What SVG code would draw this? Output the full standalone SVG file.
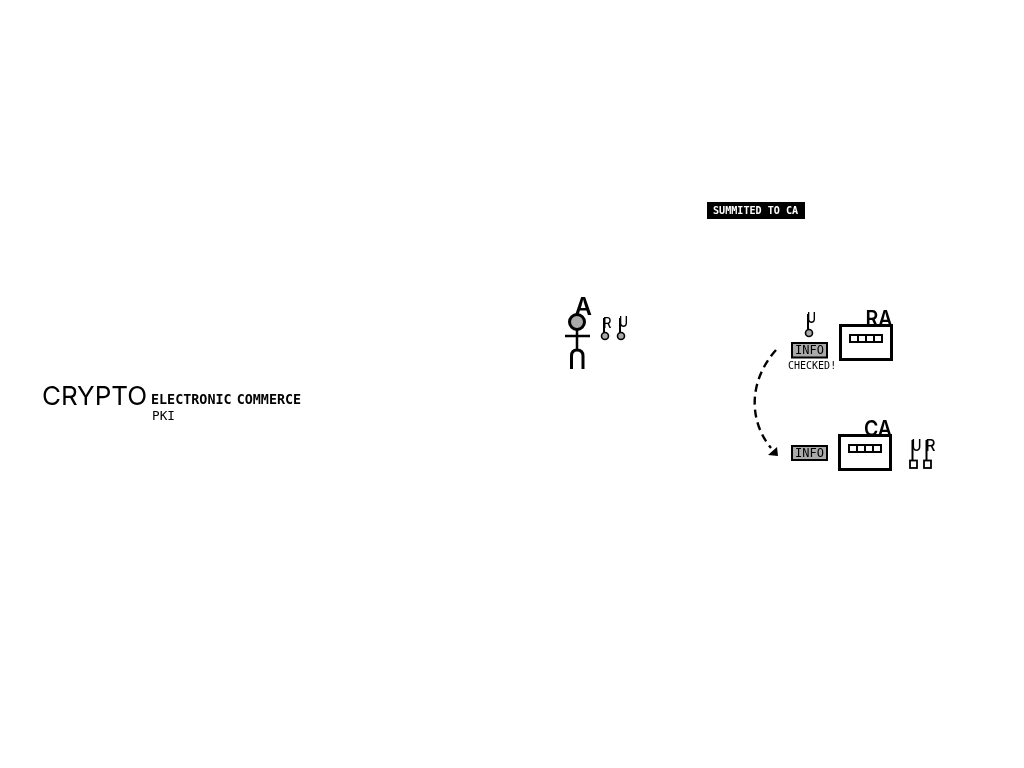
<svg xmlns="http://www.w3.org/2000/svg" width="1024" height="768" viewBox="0 0 1024 768">
<style>
text{filter:grayscale(1)}
.h{font-family:"Inter","Open Sans",sans-serif;fill:#000}
.k{font-weight:500}
.m{font-family:"DejaVu Sans Mono",monospace;fill:#000}
.b{font-weight:bold}
.s{fill:none;stroke:#000;stroke-linecap:butt}
.key{fill:#aaa;stroke:#000;stroke-width:1.600}
.info{fill:#aaa;stroke:#000;stroke-width:2}
.box{fill:#fff;stroke:#000;stroke-width:3}
.slot{fill:#fff;stroke:#000;stroke-width:2}
</style>
<g id="title">
<text class="h" x="42" y="405" font-size="26">CRYPTO</text>
<text class="m b" x="151" y="404" font-size="13.400" word-spacing="-3">ELECTRONIC COMMERCE</text>
<text class="m" x="152" y="420" font-size="12.700">PKI</text>
</g>
<g id="banner">
<rect x="707" y="202" width="98" height="17" fill="#000"/>
<text class="m b" x="713" y="214" font-size="10.100" style="fill:#fff">SUMMITED TO CA</text>
</g>
<g id="person-a">
<text class="h" x="574.500" y="314.500" font-size="24" font-weight="600">A</text>
<circle cx="577" cy="322" r="7.500" fill="#aaa" stroke="#000" stroke-width="3"/>
<path class="s" stroke-width="2.500" d="M577 330V351M565 336H590"/>
<path class="s" stroke-width="3" d="M571.500 369V356Q571.500 350 577 350Q583 350 583 356V369"/>
</g>
<g id="a-key-r">
<text class="h k" x="603" y="328" font-size="14" textLength="8.500" lengthAdjust="spacingAndGlyphs">R</text>
<path class="s" stroke-width="2" d="M604 318V332"/>
<circle class="key" cx="605" cy="336" r="3.500"/>
</g>
<g id="a-key-u">
<text class="h k" x="619" y="327" font-size="14" textLength="9" lengthAdjust="spacingAndGlyphs">U</text>
<path class="s" stroke-width="2" d="M620 318V332"/>
<circle class="key" cx="621" cy="336" r="3.500"/>
</g>
<g id="ra">
<text class="h" x="865.500" y="326" font-size="21" font-weight="600" textLength="27" lengthAdjust="spacingAndGlyphs">RA</text>
<rect class="box" x="840.500" y="325.500" width="51" height="34"/>
<rect class="slot" x="850" y="335" width="8" height="7"/><rect class="slot" x="858" y="335" width="8" height="7"/><rect class="slot" x="866" y="335" width="8" height="7"/><rect class="slot" x="874" y="335" width="8" height="7"/>
</g>
<g id="ra-key">
<text class="h k" x="807" y="323" font-size="14" textLength="9" lengthAdjust="spacingAndGlyphs">U</text>
<path class="s" stroke-width="2" d="M808 314V329"/>
<circle class="key" cx="809" cy="333" r="3.500"/>
</g>
<g id="info-ra">
<rect class="info" x="792" y="343" width="35" height="14.500"/>
<text class="m" x="795" y="354" font-size="12">INFO</text>
<text class="m" x="788" y="369" font-size="10">CHECKED!</text>
</g>
<g id="ca">
<text class="h" x="864" y="436" font-size="21" font-weight="600" textLength="28" lengthAdjust="spacingAndGlyphs">CA</text>
<rect class="box" x="839.500" y="435.500" width="51" height="34"/>
<rect class="slot" x="849" y="445" width="8" height="7"/><rect class="slot" x="857" y="445" width="8" height="7"/><rect class="slot" x="865" y="445" width="8" height="7"/><rect class="slot" x="873" y="445" width="8" height="7"/>
</g>
<g id="info-ca">
<rect class="info" x="792" y="446" width="35" height="14"/>
<text class="m" x="795" y="457" font-size="12">INFO</text>
</g>
<g id="ca-key-u">
<text class="h k" x="911.500" y="451" font-size="16" textLength="10" lengthAdjust="spacingAndGlyphs">U</text>
<path class="s" stroke-width="2" d="M912.500 440V460"/>
<rect x="910" y="460.500" width="7" height="7.500" fill="#fff" stroke="#000" stroke-width="1.800"/>
</g>
<g id="ca-key-r">
<text class="h k" x="925.500" y="451" font-size="16" textLength="10" lengthAdjust="spacingAndGlyphs">R</text>
<path class="s" stroke-width="2" d="M926.500 440V460"/>
<rect x="924" y="460.500" width="7" height="7.500" fill="#fff" stroke="#000" stroke-width="1.800"/>
</g>
<g id="connectors">
<path class="s" stroke-width="2.400" stroke-dasharray="8 5" d="M776 350C749 380 748 420 771 448"/>
<path d="M777 447L778 456L768 455Z" fill="#000"/>
</g>
</svg>
